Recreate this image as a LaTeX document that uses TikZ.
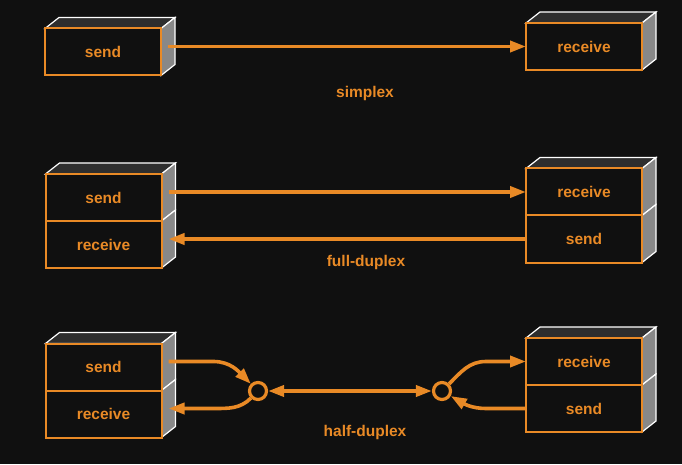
\documentclass[tikz,border=0pt]{standalone}
\usepackage{fontspec}
\setmainfont{Liberation Sans}
\usetikzlibrary{arrows.meta,positioning,calc}
\definecolor{wire}{RGB}{233,138,38}
\definecolor{backdrop}{RGB}{16,16,16}
\definecolor{lidgray}{RGB}{46,46,46}
\definecolor{flankgray}{RGB}{136,136,136}
\pgfdeclarelayer{back}
\pgfsetlayers{back,main}
\tikzset{
  every node/.style={
    font=\fontsize{15.5}{18}\selectfont\bfseries,
    text=wire
  },
  head/.tip={Triangle[length=16pt,width=11pt]},
  port/.style={
    shape=rectangle,
    draw=wire,
    line width=2pt,
    fill=backdrop,
    minimum width=116pt,
    minimum height=47pt,
    inner sep=0pt,
    outer sep=0pt
  },
  hub/.style={
    shape=circle,
    draw=wire,
    line width=3.2pt,
    fill=backdrop,
    minimum size=17pt,
    inner sep=0pt
  },
  link/.style={
    draw=wire,
    line width=3.6pt,
    -head
  },
  lid/.style={
    fill=lidgray,
    draw=white,
    line width=1.2pt
  },
  flank/.style={
    fill=flankgray,
    draw=white,
    line width=1.2pt
  }
}
% top and side faces behind a front cell
\newcommand{\boxlid}[1]{%
  \begin{pgfonlayer}{back}
    \filldraw [lid] (#1.north west) -- ++(14,11) -- ++(116,0) -- (#1.north east) -- cycle;
  \end{pgfonlayer}}
\newcommand{\boxflank}[1]{%
  \begin{pgfonlayer}{back}
    \filldraw [flank] (#1.north east) -- ++(14,11) -- ++(0,-47) -- (#1.south east) -- cycle;
  \end{pgfonlayer}}

\begin{document}
\begin{tikzpicture}[x=1pt,y=1pt]
  \begin{pgfonlayer}{back}
    \fill [backdrop] (0,0) rectangle (682,464);
  \end{pgfonlayer}
  \useasboundingbox (0,0) rectangle (682,464);

  % simplex
  \node [port] (simplexSend) at (103,412) {send};
  \node [port] (simplexRecv) at (584,417.5) {receive};
  \node (simplexLabel) at (365,371) {simplex};
  \boxlid{simplexSend} \boxflank{simplexSend}
  \boxlid{simplexRecv} \boxflank{simplexRecv}
  \coordinate (simplexOut) at ($(simplexSend.east)+(7,5.5)$);
  \draw [link] (simplexOut) -- (simplexRecv.west);

  % full-duplex
  \node [port] (fullSendL) at (103.5,266.5) {send};
  \node [port, below=0pt of fullSendL] (fullRecvL) {receive};
  \node [port] (fullRecvR) at (584,272) {receive};
  \node [port, below=0pt of fullRecvR] (fullSendR) {send};
  \node (fullLabel) at (366,202) {full-duplex};
  \boxlid{fullSendL} \boxflank{fullSendL} \boxflank{fullRecvL}
  \boxlid{fullRecvR} \boxflank{fullRecvR} \boxflank{fullSendR}
  \coordinate (fullOutL) at ($(fullSendL.east)+(7,5.5)$);
  \coordinate (fullInL) at ($(fullRecvL.east)+(7,5.5)$);
  \draw [link] (fullOutL) -- (fullRecvR.west);
  \draw [link] (fullSendR.west) -- (fullInL);

  % half-duplex
  \node [port] (halfSendL) at (103.5,97) {send};
  \node [port, below=0pt of halfSendL] (halfRecvL) {receive};
  \node [port] (halfRecvR) at (584,102.5) {receive};
  \node [port, below=0pt of halfRecvR] (halfSendR) {send};
  \node (halfLabel) at (365,32) {half-duplex};
  \boxlid{halfSendL} \boxflank{halfSendL} \boxflank{halfRecvL}
  \boxlid{halfRecvR} \boxflank{halfRecvR} \boxflank{halfSendR}
  \coordinate (halfOutL) at ($(halfSendL.east)+(7,5.5)$);
  \coordinate (halfInL) at ($(halfRecvL.east)+(7,5.5)$);
  \node [hub] (hubL) at (258,73) {};
  \node [hub] (hubR) at (442,73) {};
  \draw [link] (halfOutL) -- ++(45,0) to[out=0,in=135] (hubL.135);
  \draw [link] (hubL.225) to[out=225,in=0] ($(halfInL)+(45,0)$) -- (halfInL);
  \draw [link, head-head] (hubL) -- (hubR);
  \draw [link] (hubR.45) to[out=45,in=180] ($(halfRecvR.west)+(-40,0)$) -- (halfRecvR.west);
  \draw [link] (halfSendR.west) -- ++(-40,0) to[out=180,in=-30] (hubR.-30);
\end{tikzpicture}
\end{document}
